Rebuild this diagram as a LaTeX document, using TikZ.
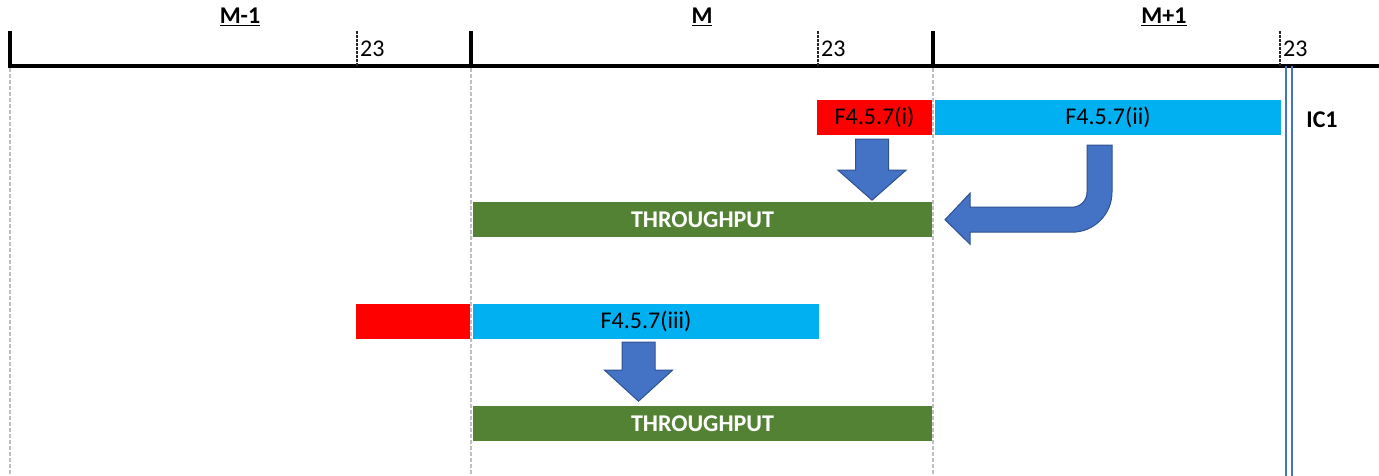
\documentclass[tikz,border=0pt]{standalone}
\usepackage{fontspec}
\setmainfont{Carlito}
\definecolor{redbar}{HTML}{FF0000}
\definecolor{cyanbar}{HTML}{00B0F0}
\definecolor{greenbar}{HTML}{548235}
\definecolor{arrowblue}{HTML}{4472C4}
\definecolor{arrowedge}{HTML}{2F528F}
\definecolor{gridgray}{HTML}{BFBFBF}

\begin{document}
\begin{tikzpicture}[x=1pt,y=-1pt]
\tikzset{
	bar/.style={rectangle, inner sep=0pt, minimum height=35pt, font=\fontsize{24}{28}\selectfont},
	hd/.style={font=\fontsize{24}{28}\selectfont\bfseries},
	tk/.style={font=\fontsize{24}{28}\selectfont, anchor=west, inner sep=1pt},
	blk/.style={fill=arrowblue, draw=arrowedge, line width=1pt}
}
\useasboundingbox (0,0) rectangle (1379,476);

% time axis
\draw[line width=4pt] (8,66) -- (1379,66);
\draw[line width=3.5pt] (10,31) -- (10,66);
\draw[line width=3.5pt] (471,31) -- (471,66);
\draw[line width=3.5pt] (933,31) -- (933,66);

% month boundaries
\draw[gridgray, dash pattern=on 4pt off 2pt, line width=1.5pt] (10,68) -- (10,476);
\draw[gridgray, dash pattern=on 4pt off 2pt, line width=1.5pt] (471,68) -- (471,476);
\draw[gridgray, dash pattern=on 4pt off 2pt, line width=1.5pt] (933,68) -- (933,476);

% day 23
\draw[black!85, dash pattern=on 3pt off 1pt, line width=1.5pt] (357,31) -- (357,66);
\draw[black!85, dash pattern=on 3pt off 1pt, line width=1.5pt] (818,31) -- (818,66);
\draw[black!85, dash pattern=on 3pt off 1pt, line width=1.5pt] (1280,31) -- (1280,66);
\node[tk] (d_0) at (359,49) {23};
\node[tk] (d_1) at (820,49) {23};
\node[tk] (d_2) at (1282,49) {23};

% months
\node[hd] (m_0) at (240,17) {\underline{M-1}};
\node[hd] (m_1) at (702,17) {\underline{M}};
\node[hd] (m_2) at (1164,17) {\underline{M+1}};

% IC1
\draw[arrowblue, line width=2.5pt] (1286,66) -- (1286,476);
\draw[arrowblue, line width=2.5pt] (1292,66) -- (1292,476);
\node[hd] (ic_1) at (1322,120) {IC1};

% first row
\node[bar, fill=redbar, minimum width=115pt] (f_i) at (874.5,117.5) {F4.5.7(i)};
\node[bar, fill=cyanbar, minimum width=346pt] (f_ii) at (1108,117.5) {F4.5.7(ii)};
\node[bar, fill=greenbar, minimum width=459pt, text=white, font=\fontsize{24}{28}\selectfont\bfseries] (g_1) at (702.5,219.5) {THROUGHPUT};

% second row
\node[bar, fill=redbar, minimum width=114pt] (r_2) at (413,321.5) {};
\node[bar, fill=cyanbar, minimum width=346pt] (f_iii) at (646,321.5) {F4.5.7(iii)};
\node[bar, fill=greenbar, minimum width=459pt, text=white, font=\fontsize{24}{28}\selectfont\bfseries] (g_2) at (702.5,423.5) {THROUGHPUT};

% block arrows
\draw[blk] ([xshift=-19pt,yshift=-4pt]f_i.south) -- ++(33,0) -- ++(0,31) -- ++(17.5,0)
	-- ++(-34,30) -- ++(-34,-30) -- ++(17.5,0) -- cycle;
\draw[blk] ([xshift=-21pt,yshift=-10pt]f_ii.south) -- ++(25,0) -- ++(0,47)
	arc[start angle=0, end angle=-90, radius=40pt] -- ++(-102,0) -- ++(0,12)
	-- ++(-25,-24.5) -- ++(25,-26.5) -- ++(0,14) -- ++(102,0)
	arc[start angle=-90, end angle=0, radius=15pt] -- cycle;
\draw[blk] ([xshift=-24pt,yshift=-3pt]f_iii.south) -- ++(33,0) -- ++(0,28) -- ++(17.5,0)
	-- ++(-34,31) -- ++(-34,-31) -- ++(17.5,0) -- cycle;

\end{tikzpicture}
\end{document}
